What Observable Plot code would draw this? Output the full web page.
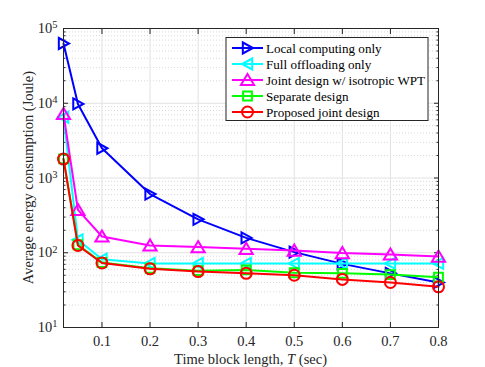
<!DOCTYPE html>
<html>
<head>
<meta charset="utf-8">
<script src="https://cdn.jsdelivr.net/npm/d3@7"></script>
<script src="https://cdn.jsdelivr.net/npm/@observablehq/plot@0.6"></script>
<style>
  html, body { margin: 0; padding: 0; background: #fff; }
  #wrap { position: relative; width: 485px; height: 367px; }
</style>
</head>
<body>
<div id="wrap"></div>
<script>
// ---- data ----
const T = [0.02, 0.05, 0.1, 0.2, 0.3, 0.4, 0.5, 0.6, 0.7, 0.8];
const localOnly   = [63000, 9800, 2500, 610, 280, 158, 102, 71, 53, 40];
const fullOffload = [6500, 149, 82, 72, 72, 72, 72, 72, 72, 72];
const jointIso    = [7200, 375, 165, 125, 119, 113, 107, 99, 95, 89];
const separate    = [1800, 128, 74, 62, 57.5, 59, 54, 53, 51, 47];
const proposed    = [1790, 125, 73, 61, 56, 53, 50, 44, 40, 35];
const seriesNames = ["Local computing only", "Full offloading only", "Joint design w/ isotropic WPT", "Separate design", "Proposed joint design"];
const seriesColors = ["#0000ff", "#00ffff", "#ff00ff", "#00ff00", "#ff0000"];
const xTicks = [0.1, 0.2, 0.3, 0.4, 0.5, 0.6, 0.7, 0.8];
const yMajor = [1e1, 1e2, 1e3, 1e4, 1e5];
const yMinor = [];
for (let e = 1; e < 5; e++) for (let m = 2; m <= 9; m++) yMinor.push(m * Math.pow(10, e));

// ---- custom marker symbols ----
const triRight = {draw(ctx, size) { const r = Math.sqrt(size / Math.PI); ctx.moveTo(-0.85 * r, -r); ctx.lineTo(r, 0); ctx.lineTo(-0.85 * r, r); ctx.closePath(); }};
const triLeft  = {draw(ctx, size) { const r = Math.sqrt(size / Math.PI); ctx.moveTo(0.85 * r, -r); ctx.lineTo(-r, 0); ctx.lineTo(0.85 * r, r); ctx.closePath(); }};
const triUp    = {draw(ctx, size) { const r = Math.sqrt(size / Math.PI); ctx.moveTo(0, -r); ctx.lineTo(1.1 * r, 0.85 * r); ctx.lineTo(-1.1 * r, 0.85 * r); ctx.closePath(); }};
const square   = {draw(ctx, size) { const r = Math.sqrt(size / Math.PI) * 0.8; ctx.rect(-r, -r, 2 * r, 2 * r); }};
const circle   = {draw(ctx, size) { const r = Math.sqrt(size / Math.PI); ctx.moveTo(r, 0); ctx.arc(0, 0, r, 0, 2 * Math.PI); }};
const symbols = [triRight, triLeft, triUp, square, circle];
const radii = [5.5, 5.5, 6, 5.5, 5.5];

const allSeries = [localOnly, fullOffload, jointIso, separate, proposed];
const rows = [];
allSeries.forEach((vals, s) => vals.forEach((v, i) => rows.push({series: seriesNames[s], T: T[i], E: v})));

const serif = "'Liberation Serif', 'Times New Roman', serif";
const gridColor = "#e2e2e2";

const marks = [
  Plot.ruleY(yMinor, {stroke: "#cfcfcf", strokeDasharray: "1,2", strokeWidth: 0.8}),
  Plot.ruleY(yMajor, {stroke: gridColor}),
  Plot.ruleX(xTicks, {stroke: gridColor}),
  Plot.axisX({anchor: "bottom", ticks: xTicks, tickSize: -5, tickPadding: 13, tickFormat: d3.format(".1f"), label: null, stroke: "#262626", fill: "#262626"}),
  Plot.axisX({anchor: "top", ticks: xTicks, tickSize: -5, tickFormat: () => "", label: null, stroke: "#262626"}),
  Plot.axisY({anchor: "left", ticks: yMajor, tickSize: -5, tickPadding: 11, tickFormat: d => "10^" + Math.round(Math.log10(d)), label: null, stroke: "#262626", fill: "#262626"}),
  Plot.axisY({anchor: "left", ticks: yMinor, tickSize: -2.5, tickFormat: () => "", label: null, stroke: "#262626"}),
  Plot.axisY({anchor: "right", ticks: yMajor, tickSize: -5, tickFormat: () => "", label: null, stroke: "#262626"}),
  Plot.axisY({anchor: "right", ticks: yMinor, tickSize: -2.5, tickFormat: () => "", label: null, stroke: "#262626"})
];
seriesNames.forEach((name, s) => {
  const data = rows.filter(r => r.series === name);
  marks.push(Plot.line(data, {x: "T", y: "E", stroke: seriesColors[s], strokeWidth: 2}));
  marks.push(Plot.dot(data, {x: "T", y: "E", stroke: seriesColors[s], strokeWidth: 2, fill: "none", symbol: symbols[s], r: radii[s]}));
});
marks.push(Plot.frame({stroke: "#262626", strokeWidth: 1}));

const chart = Plot.plot({
  width: 485,
  height: 367,
  marginTop: 28,
  marginRight: 47,
  marginBottom: 40,
  marginLeft: 63,
  style: {fontFamily: serif, fontSize: "14.5px", background: "#fff", color: "#262626", overflow: "visible"},
  x: {type: "linear", domain: [0.02, 0.8]},
  y: {type: "log", domain: [10, 1e5]},
  marks
});

document.getElementById("wrap").appendChild(chart);

// superscript exponents on y tick labels
d3.select(chart).selectAll('g[aria-label="y-axis tick label"] text').each(function () {
  const t = d3.select(this);
  const s = t.text();
  if (!s.includes("^")) return;
  const [base, ex] = s.split("^");
  t.text(null);
  t.append("tspan").text(base);
  t.append("tspan").attr("dy", "-0.45em").attr("font-size", "10.5px").text(ex);
});

// axis titles
const svg = d3.select(chart);
const xLab = svg.append("text")
  .attr("x", 250.5).attr("y", 364)
  .attr("text-anchor", "middle")
  .attr("font-family", serif).attr("font-size", "14.5px").attr("fill", "#262626");
xLab.append("tspan").text("Time block length, ");
xLab.append("tspan").attr("font-style", "italic").text("T");
xLab.append("tspan").text(" (sec)");

svg.append("text")
  .attr("transform", "translate(33,177.5) rotate(-90)")
  .attr("text-anchor", "middle")
  .attr("font-family", serif).attr("font-size", "14.5px").attr("fill", "#262626")
  .text("Average energy consumption (Joule)");

// legend (inside the axes box)
const lg = svg.append("g").attr("transform", "translate(226,37.5)");
lg.append("rect").attr("width", 202).attr("height", 83).attr("fill", "#fff").attr("stroke", "#262626").attr("stroke-width", 1);
seriesNames.forEach((name, s) => {
  const y = 10.5 + s * 16;
  lg.append("line").attr("x1", 6).attr("x2", 37).attr("y1", y).attr("y2", y).attr("stroke", seriesColors[s]).attr("stroke-width", 2);
  lg.append("path").attr("transform", `translate(21.5,${y})`)
    .attr("d", d3.symbol(symbols[s], radii[s] * radii[s] * Math.PI)())
    .attr("fill", "none").attr("stroke", seriesColors[s]).attr("stroke-width", 2);
  lg.append("text").attr("x", 40).attr("y", y + 4.5)
    .attr("text-anchor", "start")
    .attr("font-family", serif).attr("font-size", "13.1px").attr("fill", "#000").text(name);
});
</script>
</body>
</html>
